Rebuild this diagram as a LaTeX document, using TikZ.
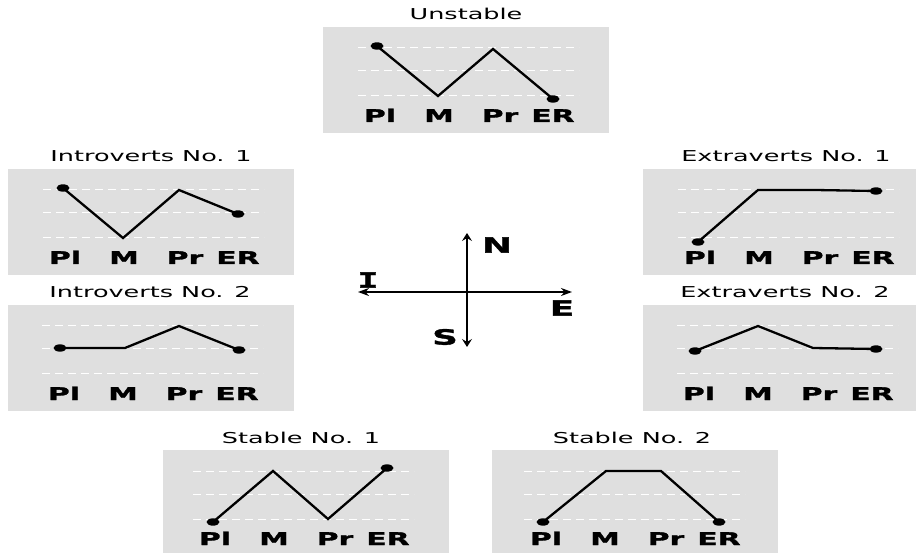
\documentclass[tikz,border=0pt]{standalone}
\usepackage{fontspec}
\usetikzlibrary{arrows.meta}
\newfontfamily\wsans[FakeStretch=1.7]{DejaVu Sans}
\newfontfamily\wbold[FakeStretch=1.7,FakeBold=1.6]{DejaVu Sans Bold}
\newfontfamily\wmono[FakeStretch=1.7,FakeBold=1.6]{DejaVu Sans Mono Bold}
\definecolor{panelgray}{gray}{0.875}
\tikzset{
  panel/.style={fill=panelgray, draw=none},
  gridline/.style={white, line width=1pt, dash pattern=on 8pt off 5pt},
  trace/.style={black, line width=2.3pt, line join=miter},
  dotmark/.style={fill=black},
  paneltitle/.style={font=\wsans\fontsize{15}{17}\selectfont, anchor=base, inner sep=0pt},
  lab/.style={font=\wbold\fontsize{17.5}{19}\selectfont, anchor=base, inner sep=0pt},
  axislab/.style={font=\wbold\fontsize{21}{23}\selectfont, inner sep=0pt},
  vaxis/.style={line width=2.6pt, {Stealth[length=8pt,width=10pt,inset=3pt]}-{Stealth[length=8pt,width=10pt,inset=3pt]}},
  haxis/.style={line width=1.7pt, {Stealth[length=11pt,width=8pt,inset=3.5pt]}-{Stealth[length=11pt,width=8pt,inset=3.5pt]}},
}
\newcommand\chartpanel[6]{%
  \fill[panel] (#2,#3) rectangle ++(286,106);
  \node[paneltitle] (#1-t) at (#4+143,#3-7) {#5};
  \foreach \dy in {21,44,69} \draw[gridline] (#4+35,#3+\dy) -- (#4+256,#3+\dy);
  \foreach \l/\dx in {Pl/57,M/116,Pr/177,ER/230} \node[lab] (#1-\l) at (#4+\dx,#3+95) {\l};
  \draw[trace] #6;
}
\newcommand\dotat[1]{\fill[dotmark] #1 ellipse [x radius=6.5pt, y radius=3.7pt];}
\begin{document}
\begin{tikzpicture}[x=1pt,y=-1pt]
\useasboundingbox (0,0) rectangle (916,553);
\begin{scope}
\clip (0,0) rectangle (916,553);
% Unstable
\chartpanel{unstable}{323}{27}{323}{Unstable}{(377,46) -- (438,96) -- (493,49) -- (553,99)}
\dotat{(377,46)}\dotat{(553,99)}
% Introverts No. 1
\chartpanel{introA}{8}{169}{8}{Introverts No. 1}{(63,188) -- (123,238) -- (179,190) -- (238,214)}
\dotat{(63,188)}\dotat{(238,214)}
% Introverts No. 2
\chartpanel{introB}{8}{305}{7}{Introverts No. 2}{(60,348) -- (125,348) -- (179,326) -- (239,350)}
\dotat{(60,348)}\dotat{(239,350)}
% Extraverts No. 1
\chartpanel{extraA}{643}{169}{643}{Extraverts No. 1}{(698,242) -- (758,190) -- (815,190) -- (876,191)}
\dotat{(698,242)}\dotat{(876,191)}
% Extraverts No. 2
\chartpanel{extraB}{643}{305}{642}{Extraverts No. 2}{(695,351) -- (758,326) -- (813,348) -- (876,349)}
\dotat{(695,351)}\dotat{(876,349)}
% Stable No. 1
\chartpanel{stableA}{163}{450}{158}{Stable No. 1}{(213,522) -- (273,471) -- (328,519) -- (387,468)}
\dotat{(213,522)}\dotat{(387,468)}
% Stable No. 2
\chartpanel{stableB}{492}{450}{489}{Stable No. 2}{(543,522) -- (606,471) -- (661,471) -- (719,522)}
\dotat{(543,522)}\dotat{(719,522)}
\end{scope}
% Axes
\coordinate (ntip) at (467,233);
\coordinate (stip) at (467,347);
\coordinate (itip) at (358,292);
\coordinate (etip) at (572,292);
\draw[vaxis] (stip) -- (ntip);
\draw[haxis] (itip) -- (etip);
\node[axislab] (nlab) at (497,245) {N};
\node[axislab, font=\wmono\fontsize{21}{23}\selectfont] (ilab) at (368,280) {I};
\node[axislab] (elab) at (562,308) {E};
\node[axislab] (slab) at (445,337) {S};
\end{tikzpicture}
\end{document}
